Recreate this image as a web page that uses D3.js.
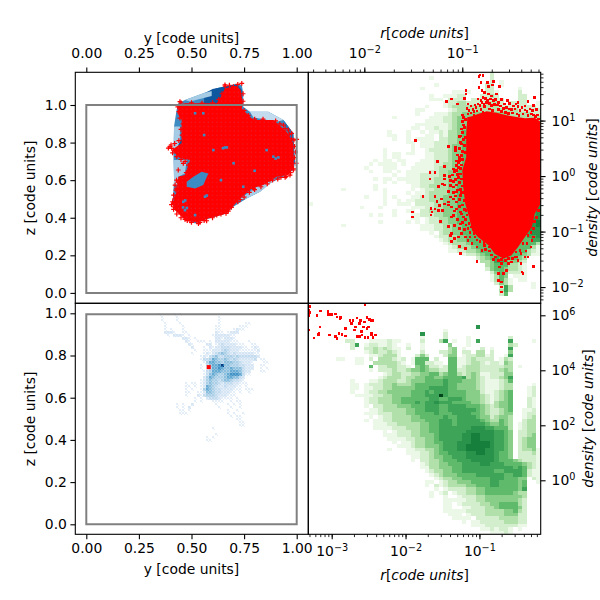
<!DOCTYPE html>
<html>
<head>
<meta charset="utf-8">
<script src="https://cdn.jsdelivr.net/npm/d3@7"></script>
<style>
  body { margin: 0; background: white; }
  text { font-family: "DejaVu Sans"; font-size: 13.9px; fill: black; }
</style>
</head>
<body>
<div id="chart"></div>
<script>
// Tick values
const codeTicks = [0, 0.25, 0.5, 0.75, 1];
const zTicksTop = [0, 0.2, 0.4, 0.6, 0.8, 1];
const rTicksTop = [0.01, 0.1];
const densTicksTop = [0.01, 0.1, 1, 10];
const rTicksBottom = [0.001, 0.01, 0.1];
const densTicksBottom = [1, 100, 10000, 1000000];

// The code box drawn in both left panels, [y, z]
const boxTop = [[0, 0], [1, 0], [1, 1], [0, 1]];
const boxBottom = [[0, 0], [1, 0], [1, 0.995], [0, 0.995]];

// top left projection: blue patches, as [level, [y, z] outline]
const blueOutline = [[.437,1.009],[.469,1.027],[.556,1.062],[.620,1.089],[.715,1.112],[.739,1.107],[.746,1.062],[.746,.991],[.778,.964],[.865,.964],[.937,.920],[.984,.849],[.992,.689],[.984,.654],[.937,.618],[.873,.583],[.826,.538],[.762,.503],[.699,.458],[.667,.423],[.556,.387],[.517,.369],[.461,.405],[.422,.440],[.410,.476],[.417,.600],[.414,.742],[.417,.885],[.429,.973]];
const bluePatches = [
  [8, [[.600,1.085],[.715,1.112],[.739,1.080],[.739,1.0],[.560,1.0],[.560,1.06]]],
  [3, [[.417,.885],[.445,.885],[.445,.796],[.417,.742]]],
  [3, [[.417,.707],[.477,.707],[.469,.636],[.437,.618],[.445,.574],[.417,.574]]],
  [8, [[.453,.822],[.485,.760],[.453,.742],[.437,.787]]],
  [2, [[.778,.964],[.865,.964],[.937,.920],[.905,.911],[.794,.934]]],
  [3, [[.905,.609],[.826,.538],[.762,.503],[.723,.494],[.810,.565]]],
  [3, [[.469,1.027],[.556,1.062],[.596,1.075],[.596,1.048],[.493,1.018]]],
  [7, [[.937,.920],[.984,.849],[.992,.689],[.971,.689],[.960,.849]]]
];
// gap in the red points where the blue shows through
const blueHole = [[.477,.591],[.509,.618],[.548,.645],[.580,.636],[.556,.574],[.517,.556],[.477,.565]];
const blueSpecks = [[.659,.774],[.668,.774],[.650,.770],[.889,.725],[.913,.721],[.900,.715],[.857,.760],[.517,.956],[.604,.760],[.564,.512],[.572,.518],[.469,.440],[.478,.452],[.460,.455],[.517,.414],[.746,.565],[.461,.485],[.470,.492],[.556,.956],[.700,.690],[.800,.650],[.640,.600],[.560,.840]];

// red particles, top left: solid mass plus the stragglers round it
const redMassTop = [[.437,1.0],[.469,1.009],[.620,1.009],[.636,1.036],[.659,1.089],[.715,1.101],[.734,1.080],[.743,1.009],[.739,.982],[.794,.920],[.889,.920],[.952,.858],[.984,.796],[.987,.671],[.960,.627],[.905,.618],[.842,.574],[.786,.556],[.731,.503],[.667,.423],[.580,.396],[.525,.373],[.461,.396],[.422,.440],[.414,.485],[.429,.538],[.437,.618],[.469,.627],[.493,.707],[.445,.716],[.406,.760],[.453,.796],[.453,.920],[.433,.956]];
const redPlusTop = [[1.0,.817],[.987,.813],[.976,.849],[.960,.867],[.937,.893],[.398,.778],[.406,.769],[.403,.787],[.414,.476],[.422,.574],[.429,.600],[.445,.565],[.469,.520],[.437,.515],[.426,.547],[.469,.391],[.533,.369],[.572,.384],[.620,.414],[.664,.423],[.945,.615],[.968,.627],[.984,.654],[.739,1.115],[.659,1.107],[.699,1.098],[.445,1.018],[.493,.384],[.731,.497],[.873,.600],[.794,.556],[.417,.458],[.410,.485],[.461,.689],[.485,.680],[.437,.654],
  [.90,.915],[.92,.90],[.945,.875],[.965,.845],[.975,.82],[.99,.78],[.995,.75],[.99,.72],[.998,.69],[.985,.66],[.97,.64],[.95,.62],[.925,.615],[.91,.605],[.885,.60],[.86,.58],[.83,.565],[.80,.55],[.775,.535],[.75,.51],[.72,.485],[.69,.455],[.675,.435],[.64,.42],[.60,.40],[.56,.385],[.54,.375],[.50,.375],[.48,.385],[.45,.40],[.43,.42],[.415,.445],[.405,.47],[.42,.50],[.415,.52],[.43,.555],[.435,.59],[.45,.61],[.475,.64],[.50,.67],[.47,.70],[.45,.71],[.43,.725],[.41,.745],[.39,.77],[.42,.795],[.44,.81],[.455,.84],[.45,.87],[.46,.90],[.445,.93],[.44,.965],[.435,.99],[.45,1.012],[.50,1.012],[.55,1.01],[.60,1.012],[.63,1.03],[.645,1.06],[.66,1.10],[.68,1.105],[.72,1.11],[.745,1.06],[.745,1.02],[.75,.97],[.77,.945],[.80,.925],[.84,.925]];

// bottom left projection, one digit per cell, 0 to 9 (rows go down from z = 1)
const blueGrid = [
  "1....1.1",
  ".1....1.............1",
  ".1....1.............1",
  "..1....1............1........11",
  "..1.....1..........11......111",
  "..1.1...1..........11....1211",
  "..2221..11.........211.1222",
  "...1.2221.1.......12222211",
  "........221.1......2212221",
  ".........21..111.1.22222111...1",
  "..........21....22.1232222111..11",
  "...........2...1.2122333222211.121",
  "............1..1112223432221111112",
  "...........1...1212345432322222211",
  "..............12134533444343333332",
  "..............1334654454343222223.11",
  "...............14665545554432221...11",
  "..............1.3566795544433222..11",
  "..............1.2466765565553222..1.1",
  "...............1346665556665322...11",
  "...............1356544567776311",
  "...............24654445665532",
  "..............124544345543321",
  ".........1.11.1245443233322111",
  ".........11.1.12654322322211.1",
  ".........1.1..14654332222111.111",
  ".........11..1125543322211.1..1",
  ".........1...2134443222111",
  "............1.1.233321111.1",
  "............1.1...1111..1.11",
  "......1.1..2.......1...1.1.1",
  "......1.1.2.........1...1..1",
  ".......11.1............1..1",
  ".......111.............1.1..1",
  "........................1.11",
  "..........................11",
  "...........................11",
  "...........................11",
  "..................1",
  "",
  "...................1",
  "................1.1",
  "................11"
];
const redBottomLeft = [[.582, .745]];

// top right phase plot, log bins, 50 columns
const greenTop = [
  ".......... .......... .......... .........2",
  ".......... .......... ......1... .........2",
  ".......... .......... .......... .........2 .1",
  ".......... .......... .......1.. ........22 .1",
  ".......... .......... ....1..... ........22 .....1",
  ".......... .......... .......... .1111...22 1....2",
  ".......... .......... ......1..1 1122...223 2....22",
  ".......... .......... ......111. 2222.22222 22...22",
  ".......... .......... .........1 2233222233 32.2222..1",
  ".......... .......... .....1...1 2333333333 3222222221",
  ".......... .......... ...11..... 1233333333 3333322222",
  ".......... .......... ...1...111 2334444444 4443333322",
  ".......... ........1. ......1112 2344444444 4443333333",
  ".......... .......... .....11112 2344444444 4444433333",
  ".......... .......... ...1111111 2344455555 4444444333",
  ".......... .......... ..11.11211 2344555555 5544444333",
  ".......... .......1.. .1..1.1121 3345555555 5555444433",
  ".......... .......11. .1...11.21 3345555555 5555544433",
  ".......... ........1. .1.1111.22 3345555555 5555544433",
  ".......... .......... .11.111222 3345555555 5555544433",
  ".......... .......... ..1.111222 3445555555 5555554443",
  ".......... ......1... ..1..12222 3445555555 5555554443",
  ".......... ......1.11 .11..11222 3445555555 5555555443",
  ".......... ......1.11 .....11222 3445555555 5555555443",
  ".......... ....1.11.1 1...111222 3445555555 5555555544",
  ".......... ...1.1111. 1..1111223 3445555555 5555555544",
  ".......... ..1...111. ..11111233 3445555555 5555555544",
  ".......... ...1..11.1 .111112233 4455555555 5555555554",
  ".......... ........1. .111222233 4455555555 5555555554",
  ".......... ....1.11.1 1111222333 4455555555 5555555555",
  ".......... ......1.1. .111222333 4455555555 5555555555",
  ".......... ....1..... ..11223333 4455555555 5555555555",
  ".......1.. ....1.1... ..1.122333 4455555555 5555555555",
  ".......... ......1... .1.1123333 4455555555 5555555556",
  ".......... ..1...1.1. ..11223334 4455555555 5555555556",
  ".......... ......1..1 .112223334 4455555555 5555555556",
  "1......... ......1..1 11.2222334 4455555555 5555555557",
  ".......... .1...1.... ..11122334 4455555555 5555555667",
  ".......... ........1. .11.223334 4455555555 5555555667",
  ".......... ...1.1..1. ..11222334 4455555555 5555555667",
  ".......... .......... ..11.12233 4455555555 5555556677",
  ".......... .....1.... .1.1.12233 4455555555 5555566778",
  ".......1.. .......... ....111223 3445555555 5555556678",
  ".......... .......... ....111223 3445555555 5555556777",
  ".......... .......... ......1.23 3445555555 5555556677",
  ".......... .......... .......122 3344555555 5555555667",
  ".......... .......... ........12 3344555555 5555555566",
  ".......... .......... .........1 2333455555 5555555553",
  ".......... .......... .......... 1233345555 5555555531",
  ".......... .......... .......... 1122334555 5555555321",
  ".......... .......... .......... ...1223455 5555554311",
  ".......... .......... .......... ......2345 6555543",
  ".......... .......... .......... .......334 6654432",
  ".......... .......... .......... ........34 5553321",
  ".......... .......... .......... ........24 5543321",
  ".......... .......... .......... .........2 4542221",
  ".......... .......... .......... .........1 354.111",
  ".......... .......... .......... .........1 3531.11",
  ".......... .......... .......... .......... 2431....1",
  ".......... .......... .......... .......... .263....1",
  ".......... .......... .......... .......... .363",
  ".......... .......... .......... .......... .25"
];

// bottom right phase plot, same idea
const greenBottom = [
  "", "", "", "", "", "",
  ".......... .......... .......... ......7",
  ".......... .......... .........1",
  ".......... .......... ....7....2",
  ".......... .......... ....1....2 ....1..... ...2",
  "........22 ...1111211 ....2...36 .1..1.6... ...6....1",
  ".........2 6.1221121. .1..1..... 4...1..... ...32",
  ".........2 ..22323211 .2..1..... 34.1...2.1 ...6",
  ".......... ..12322321 ....2...22 34.22.33.2 ...4",
  ".......... ...1123331 ...242...2 44.1223312 ..16",
  "......11.. 11.2.33321 2.1555.2.. 5511232222 .132",
  ".......... 11..333332 1.1552211. 5511233212 2143",
  ".......... ...5.22332 21.4542212 5512333222 2233.1",
  ".......... ...1.22232 2344543322 5522333222 2343",
  ".......... ......1233 2233445534 5532343112 2244",
  ".......... .....12333 2334455445 5556343212 2346",
  ".........1 ...1123332 2344455556 5554443211 1235",
  ".........1 1.12223343 3345555556 5544443211 1233....1",
  ".........1 1.11223344 4445556666 5544443211 1233...12",
  ".........1 ..12233444 4455565666 5555444211 2345...12",
  ".......... 1111223344 4455566696 5555444321 2345...12",
  ".......... ..12233344 5555556655 6665444321 2345...21",
  ".......... ..12233344 5556566766 6555544321 3445...21",
  ".......... ..1.223334 4455566655 6666555432 3445...21",
  ".......... ...1123333 3445566655 6666665432 2345..112",
  ".......... ..11122233 3445555655 5666655432 2344..122",
  ".......... ...1.12233 3344555556 5566665442 3443..123",
  ".......... ..1.112233 3344455566 6566666543 3543..233",
  ".......... ....111223 3333445566 6566666654 4543.1233",
  ".......... ....111122 2333445566 6666677766 5553.1233",
  ".......... ......1.12 2233445566 6666777777 6654.2233",
  ".......... ......1112 2233444566 6667788777 6654.2234",
  ".......... .......111 1223344566 6667788777 6654.2344",
  ".......... ........1. 1123344556 6677788887 6654.2344",
  ".......... .........1 1123344456 6677888887 6654.2344",
  ".......... .......1.. .112233456 6677888877 6654.23341",
  ".......... .......... .111223455 6666778877 6554.22231",
  ".......... .......... ..11223445 5666777777 6554.22221",
  ".......... .......... ..1.223345 5566677777 6555432221",
  ".......... .......... ....123344 5556666776 6655554321",
  ".......... .......... ....113344 4556666666 6666565321",
  ".......... .......... .....12334 4556666666 5566665211",
  ".......... .......... ......1234 4455556666 6655665211",
  ".......... .......... .......123 3445555556 6655544.21",
  ".......... .......... .....11.12 3344455556 6555545..1",
  ".......... .......... .....1.212 3333445556 6555545",
  ".......... .......... .......1.1 2222334455 5555546",
  ".......... .......... ......1.12 .122334455 5555433",
  ".......... .......... ......1..1 ..12223344 4444443",
  ".......... .......... .........1 1111223344 4444432",
  ".......... .......... .........1 1.12222334 4555532",
  ".......... .......... .........1 1..1122233 4555542",
  ".......... .......... .........1 1111222233 3344532",
  ".......... .......... .......... 111.122233 3344422",
  ".......... .......... .......... .1111.2222 2333322",
  ".......... .......... .......... ...1.11222 2233322",
  ".......... .......... .......... .....11122 2222211",
  ".......... .......... .......... .......112 1221.1",
  ".......... .......... .......... .........1 1121"
];

// red particles top right, [log r, log density]
const redMassPhase = [[-.95,1.06],[-.90,1.08],[-.84,1.12],[-.75,1.17],[-.65,1.14],[-.56,1.10],[-.46,1.07],[-.36,1.04],[-.26,1.05],[-.20,.98],[-.20,-.50],[-.26,-.68],[-.29,-.92],[-.36,-1.10],[-.43,-1.28],[-.50,-1.43],[-.58,-1.49],[-.67,-1.40],[-.73,-1.25],[-.84,-1.10],[-.90,-.98],[-.93,-.74],[-.97,-.50],[-.99,-.20],[-1.00,.10],[-.96,.34],[-.96,.76],[-.95,1.00]];
const redPhaseTop = [[-.82,1.82],[-.83,1.79],[-.79,1.81],[-.81,1.69],[-.83,1.60],[-.74,1.69],[-.68,1.70],[-.69,1.64],[-.62,1.61],[-.73,1.61],[-.96,1.54],[-.96,1.48],[-.98,1.40],[-.80,1.54],[-.77,1.51],[-.73,1.48],[-.65,1.48],[-.71,1.39],[-.79,1.42],[-.84,1.39],[-1.11,1.39],[-1.16,1.34],[-1.05,1.30],[-.94,1.30],[-.87,1.28],[-.80,1.33],[-.75,1.33],[-.68,1.36],[-.63,1.33],[-.52,1.31],[-.43,1.33],[-.33,1.34],[-.26,1.42],[-.43,1.25],[-.52,1.21],[-.36,1.19],[-.29,1.12],
  [-1.48,.64],[-1.03,.71],[-1.02,.61],[-1.14,.53],[-1.07,.52],[-1.07,.46],[-1.25,.26],[-1.18,.17],[-1.03,.28],[-1.01,.37],[-1.06,.19],[-1.09,.13],[-1.33,.06],[-1.28,.06],[-1.33,-.05],[-1.18,.01],[-1.13,-.01],[-1.18,-.05],[-1.06,.10],[-1.02,.04],[-1.09,-.10],[-1.20,-.14],[-1.24,-.19],[-1.18,-.16],[-1.09,-.20],[-1.14,-.28],[-1.06,-.29],[-1.28,-.37],[-1.40,-.37],[-1.21,-.41],[-1.14,-.47],[-1.09,-.41],[-1.02,-.35],[-1.26,-.46],[-1.23,-.53],[-1.18,-.50],[-1.14,-.52],[-1.32,-.58],[-1.28,-.59],[-1.24,-.62],[-1.51,-.65],[-1.51,-.74],[-1.31,-.65],[-1.32,-.70],[-1.20,-.62],[-1.11,-.56],[-1.06,-.59],[-1.09,-.71],[-1.02,-.65],[-1.22,-.82],[-1.11,-.74],[-.99,-.74],[-1.14,-.91],[-1.08,-.89],[-1.02,-.86],[-1.11,-1.04],[-1.12,-1.07],[-1.01,-1.03],[-1.11,-1.18],[-1.03,-1.27],[-1.02,-1.39],[-.97,-1.10],[-.94,-1.16],[-.87,-1.10],[-.85,-1.28],[-.97,-1.31],[-.85,-1.54],[-.80,-1.34],[-.43,-1.22],[-.39,-1.13],[-.34,-1.22],[-.29,-1.16],
  [-.56,-1.52],[-.60,-1.58],[-.53,-1.58],[-.62,-1.64],[-.55,-1.70],[-.50,-1.55],[-.63,-1.76],[-.58,-1.76],[-.63,-1.88],[-.60,-1.91],[-.60,-2.0],[-.60,-2.09],[-.39,-1.73],[-.40,-1.57],[-.36,-1.46],[-.38,-1.76],[-.27,-1.63],[-.33,-1.46],[-.43,-1.52],[-.46,-1.46],
  // rough edge of the mass
  [-.95,1.22],[-.93,1.18],[-.91,1.26],[-.89,1.20],[-.88,1.16],[-.86,1.24],[-.84,1.30],[-.82,1.27],[-.81,1.36],[-.78,1.30],[-.77,1.25],[-.76,1.40],[-.74,1.36],[-.72,1.31],[-.70,1.27],[-.70,1.44],[-.67,1.29],[-.66,1.38],[-.64,1.28],[-.61,1.26],[-.60,1.38],[-.58,1.22],[-.57,1.30],[-.55,1.24],[-.54,1.36],[-.50,1.20],[-.48,1.26],[-.46,1.21],[-.45,1.30],[-.41,1.18],[-.39,1.24],[-.36,1.26],[-.34,1.16],[-.31,1.21],[-.28,1.18],[-.27,1.27],[-.24,1.20],[-.23,1.10],
  [-.94,1.12],[-.91,1.14],[-.88,1.10],[-.85,1.17],[-.81,1.20],[-.79,1.15],[-.72,1.21],[-.69,1.18],[-.63,1.20],[-.60,1.16],[-.56,1.15],[-.53,1.13],[-.49,1.14],[-.44,1.12],[-.42,1.09],[-.38,1.12],[-.33,1.09],[-.30,1.12],[-.27,1.10],[-.25,1.07],[-.22,1.03],
  [-1.00,1.10],[-.99,1.05],[-1.0,.98],[-.99,.92],[-1.01,.85],[-1.0,.78],[-1.02,.72],[-.99,.66],[-1.01,.58],[-1.03,.50],[-1.0,.44],[-1.05,.38],[-1.03,.33],[-1.04,.24],[-1.06,.27],[-1.04,.15],[-1.08,.08],[-1.05,.03],[-1.10,.02],[-1.04,-.03],[-1.07,-.06],[-1.12,-.08],[-1.03,-.12],[-1.06,-.16],[-1.12,-.17],[-1.02,-.24],[-1.05,-.25],[-1.09,-.30],[-1.01,-.30],[-1.07,-.36],[-1.12,-.38],[-1.03,-.42],[-1.06,-.47],[-1.00,-.52],[-1.03,-.55],[-1.08,-.63],[-.98,-.60],[-1.01,-.68],[-1.05,-.78],[-.97,-.78],[-1.0,-.84],[-.96,-.88],[-1.03,-.95],[-.98,-.96],[-.94,-.95],[-1.04,-1.10],[-1.08,-1.12],
  [-.97,1.02],[-.98,.88],[-.97,.70],[-.98,.55],[-.97,.42],[-1.00,.30],[-1.01,.20],[-1.02,.14],[-1.01,-.05],[-1.00,-.18],[-.99,-.30],[-.98,-.44],[-.96,-.62],[-.95,-.70],[-.93,-.85],[-.91,-.92],
  [-.92,-1.02],[-.88,-1.03],[-.92,-1.10],[-.85,-1.15],[-.90,-1.22],[-.82,-1.18],[-.78,-1.20],[-.76,-1.32],[-.72,-1.35],[-.70,-1.42],[-.66,-1.46],[-.63,-1.52],[-.60,-1.50],[-.77,-1.25],[-.68,-1.50],[-.72,-1.28],
  [-.53,-1.48],[-.49,-1.48],[-.45,-1.37],[-.41,-1.34],[-.38,-1.22],[-.33,-1.07],[-.30,-1.02],[-.27,-.95],[-.26,-.82],[-.24,-.75],[-.22,-.62],[-.40,-1.40],[-.35,-1.35],[-.44,-1.46],[-.30,-1.28],[-.27,-1.10]];

// red particles bottom right, [log r, log density]
const redPhaseBottom = [[-3.30,6.31],[-3.31,6.19],[-3.30,6.10],[-3.31,6.00],[-3.20,6.00],[-3.16,6.16],[-3.15,6.16],[-3.05,6.16],[-3.05,6.09],[-3.04,6.02],[-3.00,6.02],[-2.95,6.04],[-2.93,5.94],[-2.88,5.92],[-2.89,5.87],[-2.75,5.80],[-2.71,5.80],[-2.73,5.70],[-2.61,5.80],[-2.56,5.75],[-2.66,5.90],[-2.52,5.92],[-2.49,5.85],[-2.47,5.80],[-2.44,5.80],[-2.68,5.58],[-2.69,5.46],[-2.81,5.53],[-2.62,5.70],[-2.57,5.58],[-2.50,5.58],[-2.52,5.52],[-2.41,5.28],[-2.46,5.34],[-2.60,5.40],[-2.59,5.28],[-2.65,5.22],[-2.62,5.22],[-2.55,5.19],[-2.51,5.19],[-2.44,5.19],[-2.46,5.28],[-3.16,5.58],[-3.31,5.46],[-3.17,5.34],[-3.18,5.30],[-3.24,5.18],[-3.03,5.29],[-2.95,5.22],[-2.93,5.15],[-2.90,5.34],[-2.86,5.31],[-2.81,5.24],[-2.55,6.40]];

// Panel edges
const left = 75.3, mid = 308.3, right = 540.7;
const top_ = 72.3, midY = 303.3, bottom = 534.3;

const svg = d3.select("#chart").append("svg")
    .attr("width", 600)
    .attr("height", 600);

// scales
const xCode = d3.scaleLinear().domain([0, 1]).range([86.3, 296.7]);
const zTop = d3.scaleLinear().domain([0, 1]).range([292.9, 105]);
const zBottom = d3.scaleLinear().domain([0, 1]).range([524.3, 313.3]);
const rTop = d3.scaleLog().domain([0.00268, 0.632]).range([mid, right]);
const densTop = d3.scaleLog().domain([0.0051, 74.1]).range([midY, top_]);
const rBottom = d3.scaleLog().domain([0.000482, 0.676]).range([mid, right]);
const densBottom = d3.scaleLog().domain([0.01087, 2730000]).range([bottom, midY]);

// digit to colour, 9 is kept for the single darkest cells
const blues = lv => d3.interpolateBlues(lv * 0.1 + 0.05);
const greenSteps = [0, 0.08, 0.2, 0.32, 0.44, 0.55, 0.65, 0.72, 0.8, 1];
const greens = lv => d3.interpolateGreens(greenSteps[lv]);
const speckSteps = [0, 0.1, 0.17, 0.25, 0.33, 0.42, 0.52, 0.62, 0.72, 0.95];
const speck = lv => d3.interpolateBlues(speckSteps[lv]);

// clip each panel
const panels = [
  ["tl", left, top_, mid, midY], ["tr", mid, top_, right, midY],
  ["bl", left, midY, mid, bottom], ["br", mid, midY, right, bottom]
];
const defs = svg.append("defs");
panels.forEach(p => {
  defs.append("clipPath").attr("id", "clip-" + p[0]).append("rect")
      .attr("x", p[1]).attr("y", p[2])
      .attr("width", p[3] - p[1]).attr("height", p[4] - p[2]);
});
// faint lattice that shows between the red particles
const lattice = defs.append("pattern").attr("id", "lattice")
    .attr("width", 4.3).attr("height", 4.3)
    .attr("patternUnits", "userSpaceOnUse");
lattice.append("rect").attr("x", 1.5).attr("y", 1.5)
    .attr("width", 0.9).attr("height", 0.9)
    .attr("fill", "#d8304a");

const layer = id => svg.append("g").attr("clip-path", `url(#clip-${id})`);

const line = (xs, ys) => d3.line().x(d => xs(d[0])).y(d => ys(d[1])).curve(d3.curveLinearClosed);
const pow = d => [Math.pow(10, d[0]), Math.pow(10, d[1])];

// Draw a digit grid where column / row indices map to the log bins
function drawLogGrid(g, rows, xs, ys, logX0, dLogX, logY0, dLogY) {
  rows.forEach((row, j) => {
    row.replace(/ /g, "").split("").forEach((c, i) => {
      if (c === ".") return;
      const x0 = xs(Math.pow(10, logX0 + i * dLogX));
      const x1 = xs(Math.pow(10, logX0 + (i + 1) * dLogX));
      const y0 = ys(Math.pow(10, logY0 - j * dLogY));
      const y1 = ys(Math.pow(10, logY0 - (j + 1) * dLogY));
      g.append("rect")
          .attr("x", x0).attr("y", y0)
          .attr("width", x1 - x0).attr("height", y1 - y0)
          .attr("fill", greens(+c))
          .attr("shape-rendering", "crispEdges");
    });
  });
}

// ---- top left
const tl = layer("tl");
tl.append("path").attr("d", line(xCode, zTop)(blueOutline)).attr("fill", blues(6));
tl.selectAll(".patch").data(bluePatches).enter().append("path")
    .attr("d", d => line(xCode, zTop)(d[1]))
    .attr("fill", d => blues(d[0]));
tl.selectAll(".plus").data(redPlusTop).enter().append("path")
    .attr("d", "M-2.4,0H2.4M0,-2.4V2.4")
    .attr("transform", d => `translate(${xCode(d[0])},${zTop(d[1])})`)
    .attr("stroke", "red").attr("stroke-width", 1.2).attr("fill", "none");
tl.append("path").attr("d", line(xCode, zTop)(redMassTop)).attr("fill", "red");
tl.append("path").attr("d", line(xCode, zTop)(redMassTop)).attr("fill", "url(#lattice)");
tl.append("path").attr("d", line(xCode, zTop)(blueHole)).attr("fill", blues(6));
tl.selectAll(".speck").data(blueSpecks).enter().append("rect")
    .attr("x", d => xCode(d[0]) - 1.3).attr("y", d => zTop(d[1]) - 1.3)
    .attr("width", 2.6).attr("height", 2.6)
    .attr("fill", blues(6));
tl.append("path").attr("d", line(xCode, zTop)(boxTop))
    .attr("fill", "none").attr("stroke", "gray").attr("stroke-width", 2);

// ---- bottom left
// each 3 px cell is split in four so the sparse parts stay speckled like the original
const bl = layer("bl");
const cellY = 3 / 210.4, cellZ = 3 / 211;
blueGrid.forEach((row, j) => {
  row.split("").forEach((c, i) => {
    if (c === ".") return;
    const lv = +c;
    [[0, 0], [1, 0], [0, 1], [1, 1]].forEach(sub => {
      const even = (sub[0] + sub[1]) % 2 === 0;
      if (lv <= 1 && !even) return;
      bl.append("rect")
          .attr("x", xCode(0.342 + (i + sub[0] / 2) * cellY))
          .attr("y", zBottom(1 - (j + sub[1] / 2) * cellZ))
          .attr("width", xCode(cellY / 2) - xCode(0))
          .attr("height", zBottom(0) - zBottom(cellZ / 2))
          .attr("fill", speck(even ? lv : lv - 1))
          .attr("shape-rendering", "crispEdges");
    });
  });
});
bl.selectAll(".red").data(redBottomLeft).enter().append("rect")
    .attr("x", d => xCode(d[0]) - 2).attr("y", d => zBottom(d[1]) - 2)
    .attr("width", 4).attr("height", 4).attr("fill", "red");
bl.append("path").attr("d", line(xCode, zBottom)(boxBottom))
    .attr("fill", "none").attr("stroke", "gray").attr("stroke-width", 2);

// ---- top right
const tr = layer("tr");
drawLogGrid(tr, greenTop, rTop, densTop, -2.571, 0.04745, 1.870, 0.0650);
tr.append("path")
    .attr("d", d3.line().x(d => rTop(Math.pow(10, d[0]))).y(d => densTop(Math.pow(10, d[1]))).curve(d3.curveLinearClosed)(redMassPhase))
    .attr("fill", "red");
tr.selectAll(".dot").data(redPhaseTop).enter().append("rect")
    .attr("x", d => rTop(pow(d)[0]) - 1.3).attr("y", d => densTop(pow(d)[1]) - 1.3)
    .attr("width", 2.6).attr("height", 2.6).attr("fill", "red")
    .attr("shape-rendering", "crispEdges");

// ---- bottom right
const br = layer("br");
drawLogGrid(br, greenBottom, rBottom, densBottom, -3.317, 0.06297, 6.436, 0.1313);
br.selectAll(".dot").data(redPhaseBottom).enter().append("rect")
    .attr("x", d => rBottom(pow(d)[0]) - 1.3).attr("y", d => densBottom(pow(d)[1]) - 1.3)
    .attr("width", 2.6).attr("height", 2.6).attr("fill", "red")
    .attr("shape-rendering", "crispEdges");

// spines
panels.forEach(p => {
  svg.append("rect")
      .attr("x", p[1]).attr("y", p[2])
      .attr("width", p[3] - p[1]).attr("height", p[4] - p[2])
      .attr("fill", "none").attr("stroke", "black").attr("stroke-width", 1.1);
});

// Style an axis group: no domain line, matplotlib sized ticks
function placeAxis(axis, tx, ty, pad) {
  const g = svg.append("g").attr("transform", `translate(${tx},${ty})`)
      .call(axis.tickSizeOuter(0).tickSize(4.9).tickPadding(pad));
  g.select(".domain").remove();
  g.selectAll("line").attr("stroke-width", 1.1);
  g.selectAll("text").style("font-family", "DejaVu Sans").style("font-size", "13.9px");
  return g;
}

// power of ten labels with a real superscript
function powerLabels(g) {
  g.selectAll("text").each(function (d) {
    const t = d3.select(this).text("");
    t.append("tspan").text("10");
    t.append("tspan")
        .attr("dy", "-0.5em")
        .style("font-size", "9.7px")
        .text(String(Math.round(Math.log10(d))).replace("-", "\u2212"));
  });
}

function minorTicks(axis, scale, tx, ty) {
  const g = svg.append("g").attr("transform", `translate(${tx},${ty})`)
      .call(axis.tickValues(scale.ticks()).tickFormat("").tickSizeOuter(0).tickSize(2.8));
  g.select(".domain").remove();
  g.selectAll("line").attr("stroke-width", 0.85);
}

placeAxis(d3.axisTop(xCode).tickValues(codeTicks).tickFormat(d3.format(".2f")), 0, top_, 9.1);
placeAxis(d3.axisLeft(zTop).tickValues(zTicksTop).tickFormat(d3.format(".1f")), left, 0, 3.5);
placeAxis(d3.axisBottom(xCode).tickValues(codeTicks).tickFormat(d3.format(".2f")), 0, bottom, 3.5);
placeAxis(d3.axisLeft(zBottom).tickValues(zTicksTop).tickFormat(d3.format(".1f")), left, 0, 3.5);

minorTicks(d3.axisTop(rTop), rTop, 0, top_);
minorTicks(d3.axisRight(densTop), densTop, right, 0);
minorTicks(d3.axisBottom(rBottom), rBottom, 0, bottom);
powerLabels(placeAxis(d3.axisTop(rTop).tickValues(rTicksTop), 0, top_, 9.1));
powerLabels(placeAxis(d3.axisRight(densTop).tickValues(densTicksTop), right, 0, 6));
powerLabels(placeAxis(d3.axisBottom(rBottom).tickValues(rTicksBottom), 0, bottom, 7));
powerLabels(placeAxis(d3.axisRight(densBottom).tickValues(densTicksBottom), right, 0, 6));

// Axis titles. Math style titles have upright brackets and a tight r
function label(parts, x, y, rotate) {
  const t = svg.append("text")
      .attr("transform", `translate(${x},${y})` + (rotate ? " rotate(-90)" : ""))
      .attr("text-anchor", "middle");
  parts.forEach(p => {
    t.append("tspan").style("font-style", p[1] ? "italic" : "normal").text(p[0]);
  });
}
const plainTitle = name => [[name + " [code units]", false]];
const mathTitle = name => [[name, true], ["[", false], ["code units", true], ["]", false]];
label(plainTitle("y"), 191.5, 43, false);
label(mathTitle("r"), 424.5, 38.3, false);
label(plainTitle("y"), 191.5, 574, false);
label(mathTitle("r"), 424.5, 580, false);
label(plainTitle("z"), 35, 188, true);
label(plainTitle("z"), 35, 419, true);
label([["density ", true], ["[", false], ["code units", true], ["]", false]], 596.5, 187.5, true);
label([["density ", true], ["[", false], ["code units", true], ["]", false]], 592.5, 418.5, true);
</script>
</body>
</html>
